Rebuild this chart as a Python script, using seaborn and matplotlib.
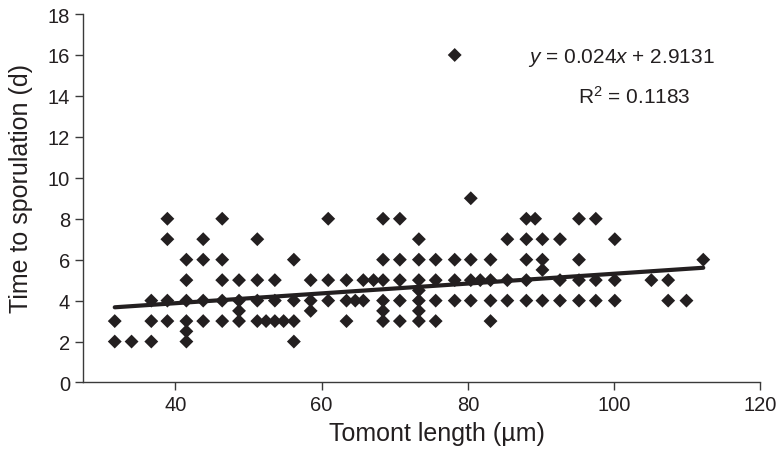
import numpy as np
import pandas as pd
from matplotlib import pyplot as plt
import seaborn as sns

# tomont length (um) and time to sporulation (d), read column by column
tomont_length = (
    [31.7] * 2 + [34.0] + [36.7] * 3 + [38.9] * 4 + [41.5] * 6 + [43.8] * 4
    + [46.4] * 5 + [48.7] * 4 + [51.2] * 4 + [52.4] + [53.6] * 3 + [54.8]
    + [56.2] * 4 + [58.5] * 3 + [60.9] * 3 + [63.4] * 3 + [64.6] + [65.7] * 2
    + [67.1] + [68.4] * 6 + [70.7] * 5 + [73.3] * 7 + [75.6] * 4 + [78.2] * 4
    + [80.4] * 4 + [81.7] + [83.1] * 4 + [85.4] * 3 + [88.0] * 5 + [89.2]
    + [90.2] * 4 + [92.6] * 3 + [95.2] * 4 + [97.5] * 3 + [100.1] * 3
    + [105.1] + [107.4] * 2 + [109.9] + [112.2]
)
sporulation_days = (
    [3, 2] + [2] + [4, 3, 2] + [8, 7, 4, 3] + [6, 5, 4, 3, 2.5, 2] + [7, 6, 4, 3]
    + [8, 6, 5, 4, 3] + [5, 4, 3.5, 3] + [7, 5, 4, 3] + [3] + [5, 4, 3] + [3]
    + [6, 4, 3, 2] + [5, 4, 3.5] + [8, 5, 4] + [5, 4, 3] + [4] + [5, 4]
    + [5] + [8, 6, 5, 4, 3.5, 3] + [8, 6, 5, 4, 3] + [7, 6, 5, 4.5, 4, 3.5, 3]
    + [6, 5, 4, 3] + [16, 6, 5, 4]
    + [9, 6, 5, 4] + [5] + [6, 5, 4, 3] + [7, 5, 4] + [8, 7, 6, 5, 4] + [8]
    + [7, 6, 5.5, 4] + [7, 5, 4] + [8, 6, 5, 4] + [8, 5, 4] + [7, 5, 4]
    + [5] + [5, 4] + [4] + [6]
)
slope = 0.024
intercept = 2.9131
r_squared = 0.1183

x_ticks = [40, 60, 80, 100, 120]
y_ticks = [0, 2, 4, 6, 8, 10, 12, 14, 16, 18]

sns.set_style("ticks")
plt.rcParams["font.family"] = ["Liberation Sans", "DejaVu Sans"]
plt.rcParams["mathtext.fontset"] = "custom"
plt.rcParams["mathtext.rm"] = "Liberation Sans"
plt.rcParams["mathtext.it"] = "Liberation Sans:italic"

ink = "#231f20"
axis_col = "#3a3a3a"

df = pd.DataFrame({"length": tomont_length, "days": sporulation_days})

fig = plt.figure(figsize=(7.79, 4.56), dpi=100)
ax = fig.add_axes([0.106, 0.159, 0.870, 0.808])

sns.scatterplot(data=df, x="length", y="days", marker="D", s=50,
                color=ink, edgecolor="none", linewidth=0, ax=ax, zorder=3)

fit_x = np.array([df["length"].min(), df["length"].max()])
fit = pd.DataFrame({"length": fit_x, "days": slope * fit_x + intercept})
sns.lineplot(data=fit, x="length", y="days", color=ink, linewidth=3.0,
             ax=ax, zorder=4)

ax.set_xlim(27.3, 120)
ax.set_ylim(0, 18)
ax.set_xticks(x_ticks)
ax.set_yticks(y_ticks)
ax.tick_params(axis="both", direction="out", length=6, width=1,
               color=axis_col, labelsize=14.5, labelcolor=ink, pad=3)
sns.despine(ax=ax)
for side in ["left", "bottom"]:
    ax.spines[side].set_color(axis_col)
    ax.spines[side].set_linewidth(1.0)

ax.set_xlabel("Tomont length (µm)", fontsize=18, color=ink)
ax.set_ylabel("Time to sporulation (d)", fontsize=18, color=ink)
ax.xaxis.set_label_coords(0.523, -0.105)
ax.yaxis.set_label_coords(-0.073, 0.528)

ax.text(101, 15.9, f"$y$ = {slope}$x$ + {intercept}", fontsize=15,
        color=ink, ha="center", va="center")
ax.text(102.8, 14.0, f"R$^2$ = {r_squared}", fontsize=15,
        color=ink, ha="center", va="center")

plt.savefig("out.png", dpi=100)
plt.close()
